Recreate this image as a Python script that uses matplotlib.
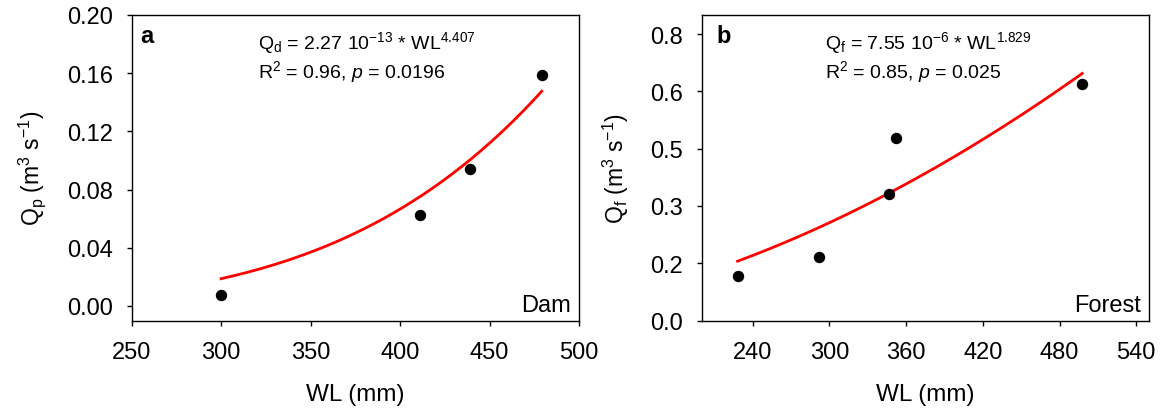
import numpy as np
import matplotlib
matplotlib.use("Agg")
import matplotlib.pyplot as plt

plt.rcParams['font.family'] = ['Liberation Sans', 'DejaVu Sans']
plt.rcParams['mathtext.fontset'] = 'custom'
plt.rcParams['mathtext.rm'] = 'Liberation Sans'
plt.rcParams['mathtext.it'] = 'Liberation Sans:italic'
plt.rcParams['mathtext.bf'] = 'Liberation Sans:bold'

# ---- Data: panel a (Dam) ----
dam_wl = [300.0, 411.2, 439.2, 479.2]
dam_q = [0.0078, 0.0625, 0.0938, 0.159]
dam_coef_a = 2.27e-13
dam_coef_b = 4.407
dam_xticks = [250, 300, 350, 400, 450, 500]
dam_yticks = [0.00, 0.04, 0.08, 0.12, 0.16, 0.20]
dam_yticklabels = ["0.00", "0.04", "0.08", "0.12", "0.16", "0.20"]

# ---- Data: panel b (Forest) ----
forest_wl = [228.1, 291.5, 346.9, 352.3, 497.8]
forest_q = [0.1155, 0.1654, 0.3317, 0.477, 0.6205]
forest_coef_a = 7.55e-6
forest_coef_b = 1.829
forest_xticks = [240, 300, 360, 420, 480, 540]
forest_yticks = [0.0, 0.15, 0.30, 0.45, 0.60, 0.75]
forest_yticklabels = ["0.0", "0.2", "0.3", "0.5", "0.6", "0.8"]

fig = plt.figure(figsize=(11.64, 4.14), dpi=100)
ax1 = fig.add_axes([0.1131, 0.2234, 0.3843, 0.738])
ax2 = fig.add_axes([0.6028, 0.2234, 0.3843, 0.738])

TICK_FS = 17
XLABEL_FS = 17.5
YLABEL_FS = 16.5
ANN_FS = 14
SITE_FS = 17


def style(ax):
    ax.tick_params(direction='out', length=3.3, width=1, labelsize=TICK_FS,
                   top=False, right=False)
    ax.tick_params(axis='y', pad=10)
    ax.tick_params(axis='x', pad=11.5)
    for s in ax.spines.values():
        s.set_linewidth(1.0)


def panel(ax, wl, q, a, b, xticks, yticks, yticklabels, xlim, ylim,
          letter, eq, stats, site, ylabel, letter_x, eq_x):
    xs = np.linspace(min(wl), max(wl), 200)
    ax.plot(xs, a * xs ** b, color='#ff0000', lw=2.0, zorder=2)
    ax.plot(wl, q, 'o', color='black', ms=7.2, zorder=3)
    ax.set_xlim(*xlim)
    ax.set_ylim(*ylim)
    ax.set_xticks(xticks)
    ax.set_yticks(yticks)
    ax.set_yticklabels(yticklabels)
    style(ax)
    ax.set_xlabel('WL (mm)', fontsize=XLABEL_FS, labelpad=14)
    ax.set_ylabel(ylabel, fontsize=YLABEL_FS, labelpad=14)
    ax.text(letter_x, 0.913, letter, transform=ax.transAxes, fontsize=17,
            fontweight='bold', va='baseline', ha='left')
    ax.text(eq_x, 0.890, eq, transform=ax.transAxes, fontsize=ANN_FS,
            va='baseline', ha='left')
    ax.text(eq_x, 0.796, stats, transform=ax.transAxes, fontsize=ANN_FS,
            va='baseline', ha='left')
    ax.text(0.983, 0.032, site, transform=ax.transAxes, fontsize=SITE_FS,
            va='baseline', ha='right')


panel(ax1, dam_wl, dam_q, dam_coef_a, dam_coef_b, dam_xticks, dam_yticks,
      dam_yticklabels, (250, 500), (-0.01, 0.20), 'a',
      r'Q$_\mathrm{d}$ = 2.27 10$^{\mathrm{-13}}$ * WL$^{\mathrm{4.407}}$',
      r'R$^\mathrm{2}$ = 0.96, $\mathit{p}$ = 0.0196', 'Dam',
      r'Q$_\mathrm{p}$ (m$^\mathrm{3}$ s$^\mathrm{-1}$)', 0.019, 0.283)

panel(ax2, forest_wl, forest_q, forest_coef_a, forest_coef_b, forest_xticks,
      forest_yticks, forest_yticklabels, (200, 550), (0.0, 0.80), 'b',
      r'Q$_\mathrm{f}$ = 7.55 10$^{\mathrm{-6}}$ * WL$^{\mathrm{1.829}}$',
      r'R$^\mathrm{2}$ = 0.85, $\mathit{p}$ = 0.025', 'Forest',
      r'Q$_\mathrm{f}$ (m$^\mathrm{3}$ s$^\mathrm{-1}$)', 0.032, 0.276)

fig.savefig('out.png', dpi=100, facecolor='white')
